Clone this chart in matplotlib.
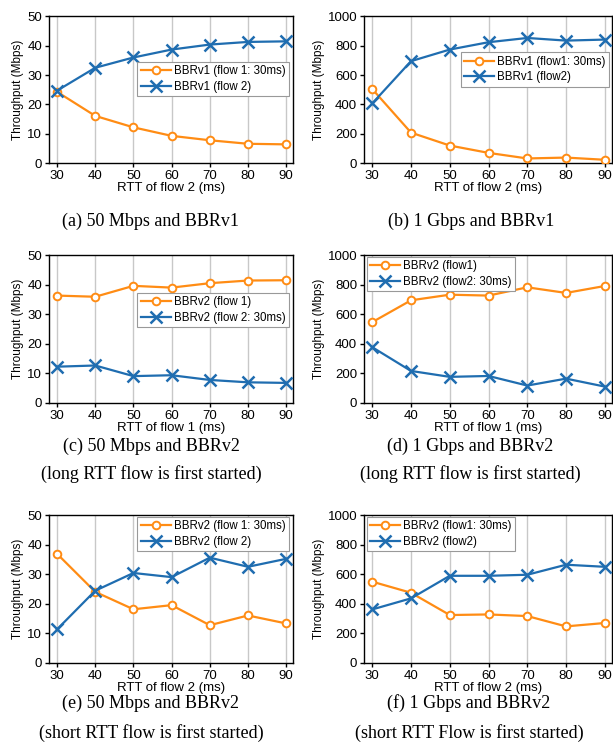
import matplotlib
matplotlib.use('Agg')
from matplotlib import pyplot as plt

plt.rcParams['font.family'] = ['Liberation Sans', 'DejaVu Sans']

ORANGE = '#ff8c14'
BLUE = '#1f6db0'

rtt = [30, 40, 50, 60, 70, 80, 90]

# (a) 50 Mbps, BBRv1
a_flow1 = [24.3, 16.1, 12.2, 9.3, 7.8, 6.6, 6.4]
a_flow2 = [24.7, 32.5, 36.0, 38.7, 40.4, 41.3, 41.5]
# (b) 1 Gbps, BBRv1
b_flow1 = [505, 208, 120, 70, 32, 38, 23]
b_flow2 = [407, 695, 774, 824, 853, 835, 842]
# (c) 50 Mbps, BBRv2, long RTT first
c_flow1 = [36.3, 35.9, 39.6, 39.0, 40.5, 41.4, 41.5]
c_flow2 = [12.2, 12.6, 9.0, 9.3, 7.7, 6.9, 6.7]
# (d) 1 Gbps, BBRv2, long RTT first
d_flow1 = [546, 694, 732, 726, 782, 744, 791]
d_flow2 = [376, 215, 175, 181, 116, 163, 109]
# (e) 50 Mbps, BBRv2, short RTT first
e_flow1 = [36.9, 24.0, 18.1, 19.5, 12.7, 16.0, 13.3]
e_flow2 = [11.3, 24.4, 30.4, 29.0, 35.6, 32.5, 35.2]
# (f) 1 Gbps, BBRv2, short RTT first
f_flow1 = [549, 474, 323, 327, 316, 246, 269]
f_flow2 = [361, 436, 589, 589, 596, 664, 650]

panels = [
    # rect, y1, y2, labels, ymax, xlabel, legend loc, anchor, captions
    ([0.080, 0.781, 0.398, 0.197], a_flow1, a_flow2,
     ['BBRv1 (flow 1: 30ms)', 'BBRv1 (flow 2)'], 50, 'RTT of flow 2 (ms)',
     'upper right', (0.985, 0.69), ['(a) 50 Mbps and BBRv1']),
    ([0.594, 0.781, 0.404, 0.197], b_flow1, b_flow2,
     ['BBRv1 (flow1: 30ms)', 'BBRv1 (flow2)'], 1000, 'RTT of flow 2 (ms)',
     'upper right', (0.99, 0.755), ['(b) 1 Gbps and BBRv1']),
    ([0.080, 0.4595, 0.398, 0.198], c_flow1, c_flow2,
     ['BBRv2 (flow 1)', 'BBRv2 (flow 2: 30ms)'], 50, 'RTT of flow 1 (ms)',
     'upper right', (0.985, 0.745),
     ['(c) 50 Mbps and BBRv2', '(long RTT flow is first started)']),
    ([0.594, 0.4595, 0.404, 0.198], d_flow1, d_flow2,
     ['BBRv2 (flow1)', 'BBRv2 (flow2: 30ms)'], 1000, 'RTT of flow 1 (ms)',
     'upper left', (0.01, 0.99),
     ['(d) 1 Gbps and BBRv2', '(long RTT flow is first started)']),
    ([0.080, 0.1105, 0.398, 0.198], e_flow1, e_flow2,
     ['BBRv2 (flow 1: 30ms)', 'BBRv2 (flow 2)'], 50, 'RTT of flow 2 (ms)',
     'upper right', (0.985, 0.99),
     ['(e) 50 Mbps and BBRv2', '(short RTT flow is first started)']),
    ([0.594, 0.1105, 0.404, 0.198], f_flow1, f_flow2,
     ['BBRv2 (flow1: 30ms)', 'BBRv2 (flow2)'], 1000, 'RTT of flow 2 (ms)',
     'upper left', (0.01, 0.99),
     ['(f) 1 Gbps and BBRv2', '(short RTT Flow is first started)']),
]

fig = plt.figure(figsize=(6.13, 7.45), dpi=100)

for rect, y1, y2, labels, ymax, xlabel, loc, anchor, captions in panels:
    ax = fig.add_axes(rect)
    ax.plot(rtt, y1, color=ORANGE, lw=1.6, marker='o', ms=5.5,
            mfc='white', mec=ORANGE, mew=1.4, label=labels[0], zorder=3)
    ax.plot(rtt, y2, color=BLUE, lw=1.6, marker='x', ms=8,
            mew=1.8, label=labels[1], zorder=3)
    ax.set_xlim(27.9, 91.8)
    ax.set_ylim(0, ymax)
    ax.set_xticks(rtt)
    ax.set_yticks([ymax * i / 5 for i in range(6)])
    ax.grid(axis='x', color='#c8c8c8', lw=1)
    ax.set_axisbelow(True)
    ax.tick_params(labelsize=9.5, length=3, width=1, pad=2)
    for sp in ax.spines.values():
        sp.set_linewidth(1)
    ax.set_xlabel(xlabel, fontsize=9.5, labelpad=0)
    ax.set_ylabel('Throughput (Mbps)', fontsize=8.5, labelpad=2)
    leg = ax.legend(loc=loc, bbox_to_anchor=anchor, borderaxespad=0,
                    fontsize=8.3, fancybox=False, framealpha=1,
                    edgecolor='#999999', handlelength=2.6, handletextpad=0.3,
                    labelspacing=0.3, borderpad=0.3)
    leg.get_frame().set_linewidth(0.8)

# captions under each panel (pixel positions from the top)
cap_pos = [
    (151, [221]), (471, [221]),
    (151, [446, 474]), (470, [446, 474]),
    (151, [703, 733]), (469, [703, 733]),
]
for (cx, ys), p in zip(cap_pos, panels):
    for text, y in zip(p[8], ys):
        fig.text(cx / 613, 1 - y / 745, text, ha='center', va='center',
                 fontsize=13, family=['Liberation Serif', 'DejaVu Serif'])

fig.savefig('out.png', dpi=100)
